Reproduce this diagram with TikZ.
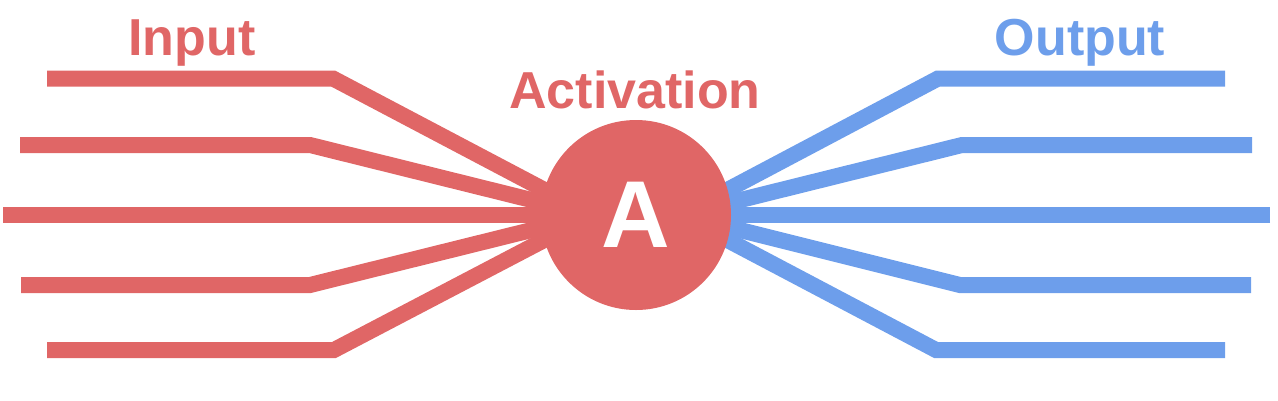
\documentclass[tikz,border=0pt]{standalone}
\usepackage{fontspec}
\setmainfont{Liberation Sans}
\definecolor{inputRed}{HTML}{E06666}
\definecolor{outputBlue}{HTML}{6D9EEB}

\begin{document}
\begin{tikzpicture}[
  x=1pt, y=-1pt,
  wire/.style={
    line width=16pt,
    line cap=butt,
    line join=miter
  },
  input wire/.style={
    wire,
    draw=inputRed
  },
  output wire/.style={
    wire,
    draw=outputBlue
  },
  heading/.style={
    font=\fontsize{52}{60}\selectfont\bfseries,
    anchor=base,
    inner sep=0pt
  },
  neuron/.style={
    circle,
    fill=inputRed,
    minimum size=190pt,
    inner sep=0pt,
    text=white,
    font=\fontsize{95}{110}\selectfont\bfseries
  }
]
\useasboundingbox (0,0) rectangle (1278,400);

% Headings
\node[heading, text=inputRed] (inputTitle) at (192,55) {Input};
\node[heading, text=inputRed] (activationTitle) at (635,108) {Activation};
\node[heading, text=outputBlue] (outputTitle) at (1080,55) {Output};

% Points where the wires meet inside the neuron
\coordinate (hubIn) at (592,215);
\coordinate (hubOut) at (680,215);

% Input wires: row / free end / bend
\foreach \i/\y/\xe/\xb in {1/78.5/47/333, 2/145/20/310, 3/215/3/300, 4/285/21/310, 5/350/47/334} {
  \coordinate (in\i) at (\xe,\y);
  \coordinate (inBend\i) at (\xb,\y);
  \draw[input wire] (in\i) -- (inBend\i) -- (hubIn);
}

% Output wires: row / free end / bend
\foreach \i/\y/\xe/\xb in {1/78.5/1225/938, 2/145/1252/962, 3/215/1270/975, 4/285/1251/960, 5/350/1225/936} {
  \coordinate (out\i) at (\xe,\y);
  \coordinate (outBend\i) at (\xb,\y);
  \draw[output wire] (out\i) -- (outBend\i) -- (hubOut);
}

% Activation neuron on top of the wires
\node[neuron] (act) at (636,215) {A};

\end{tikzpicture}
\end{document}
